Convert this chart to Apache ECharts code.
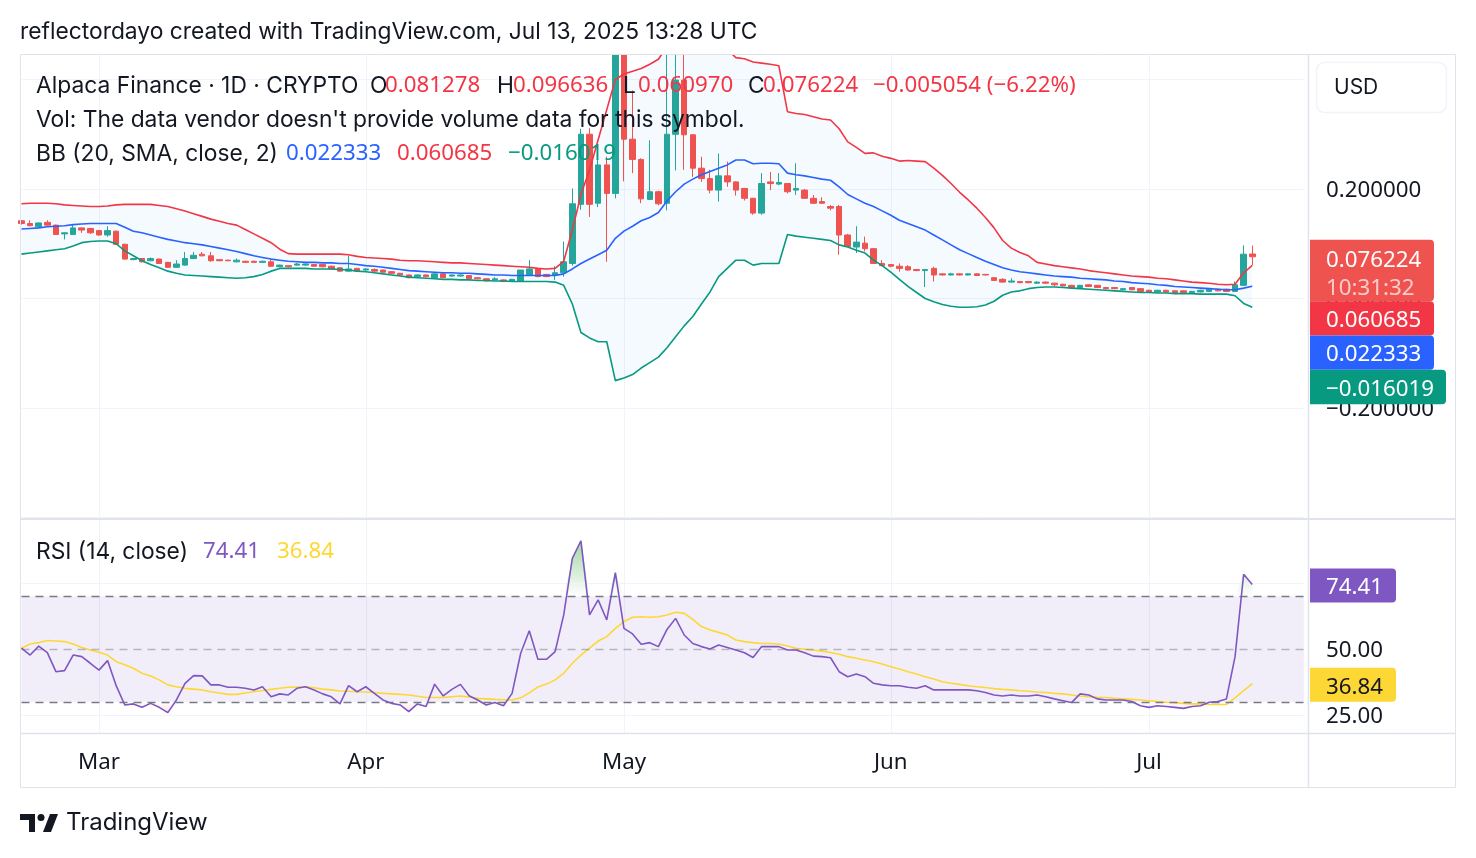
<!DOCTYPE html>
<html><head><meta charset="utf-8">
<script src="https://cdn.jsdelivr.net/npm/echarts@6/dist/echarts.min.js"></script>
<style>html,body{margin:0;padding:0;background:#fff}#c{width:1476px;height:858px}</style>
</head><body><div id="c"></div><script>
// ---- axis / category settings ----
const startDate = '2025-02-20';
const dayCount = 150;
const monthLabels = ['Jan','Feb','Mar','Apr','May','Jun','Jul','Aug','Sep','Oct','Nov','Dec'];
const priceTicks = {min: -0.4, interval: 0.2};
const rsiTickValues = [25, 50, 75];

// ---- daily candles (Feb 20 .. Jul 13 2025) ----
const open = [0.142,0.137,0.131,0.139,0.134,0.118,0.117,0.129,0.128,0.124,0.116,0.123,0.099,0.071,0.073,0.069,0.072,0.066,0.057,0.061,
0.073,0.081,0.078,0.071,0.070,0.067,0.068,0.068,0.066,0.067,0.058,0.060,0.061,0.061,0.062,0.062,0.059,0.056,0.050,0.055,
0.052,0.053,0.052,0.049,0.046,0.043,0.040,0.043,0.038,0.045,0.041,0.041,0.042,0.038,0.036,0.034,0.034,0.032,0.032,0.043,
0.054,0.044,0.043,0.047,0.064,0.172,0.300,0.174,0.244,0.192,0.520,0.291,0.254,0.181,0.195,0.174,0.300,0.399,0.299,0.238,
0.219,0.198,0.224,0.213,0.201,0.183,0.156,0.213,0.209,0.210,0.198,0.198,0.183,0.177,0.168,0.168,0.116,0.094,0.101,0.091,
0.064,0.062,0.059,0.058,0.053,0.051,0.055,0.045,0.043,0.045,0.043,0.045,0.044,0.038,0.035,0.030,0.031,0.031,0.028,0.030,
0.028,0.026,0.024,0.020,0.025,0.024,0.020,0.020,0.016,0.020,0.018,0.015,0.012,0.015,0.014,0.014,0.011,0.012,0.013,0.017,
0.017,0.013,0.024,0.081278];
const close = [0.137,0.133,0.138,0.134,0.117,0.120,0.129,0.125,0.120,0.116,0.124,0.099,0.072,0.073,0.067,0.073,0.064,0.057,0.063,0.073,
0.079,0.078,0.069,0.069,0.069,0.070,0.066,0.066,0.068,0.059,0.061,0.058,0.063,0.063,0.059,0.058,0.054,0.050,0.054,0.050,
0.054,0.050,0.048,0.046,0.043,0.038,0.043,0.040,0.045,0.038,0.043,0.043,0.036,0.036,0.032,0.036,0.031,0.035,0.052,0.054,
0.040,0.040,0.047,0.067,0.173,0.300,0.172,0.244,0.192,0.520,0.291,0.254,0.182,0.195,0.173,0.300,0.399,0.299,0.238,0.219,
0.198,0.224,0.213,0.198,0.183,0.156,0.210,0.210,0.212,0.195,0.201,0.183,0.174,0.174,0.165,0.116,0.095,0.103,0.091,0.064,
0.060,0.059,0.055,0.052,0.051,0.053,0.043,0.043,0.045,0.043,0.045,0.042,0.043,0.033,0.030,0.032,0.029,0.029,0.030,0.028,
0.025,0.023,0.020,0.024,0.022,0.020,0.018,0.018,0.018,0.016,0.013,0.012,0.015,0.012,0.011,0.011,0.013,0.015,0.017,0.014,
0.013,0.025,0.081,0.076224];
const low = [0.135,0.132,0.130,0.133,0.116,0.108,0.116,0.120,0.118,0.115,0.113,0.098,0.071,0.070,0.066,0.068,0.063,0.056,0.056,0.060,
0.072,0.077,0.067,0.068,0.068,0.066,0.065,0.065,0.065,0.058,0.057,0.057,0.060,0.060,0.058,0.057,0.053,0.049,0.049,0.049,
0.051,0.048,0.047,0.045,0.042,0.037,0.039,0.039,0.037,0.037,0.040,0.040,0.035,0.035,0.031,0.033,0.030,0.031,0.031,0.042,
0.039,0.039,0.034,0.040,0.060,0.162,0.149,0.167,0.067,0.183,0.214,0.229,0.174,0.180,0.170,0.161,0.234,0.235,0.222,0.213,
0.192,0.177,0.204,0.188,0.179,0.153,0.153,0.198,0.207,0.192,0.189,0.182,0.173,0.173,0.161,0.080,0.094,0.083,0.086,0.063,
0.059,0.057,0.049,0.051,0.050,0.021,0.031,0.042,0.042,0.042,0.042,0.041,0.042,0.032,0.029,0.029,0.028,0.028,0.027,0.027,
0.023,0.022,0.019,0.019,0.021,0.019,0.017,0.017,0.015,0.015,0.012,0.011,0.011,0.011,0.010,0.010,0.010,0.011,0.012,0.013,
0.012,0.012,0.023,0.06097];
const high = [0.143,0.143,0.139,0.143,0.135,0.121,0.134,0.130,0.129,0.125,0.132,0.124,0.100,0.074,0.074,0.075,0.073,0.067,0.070,0.085,
0.085,0.085,0.085,0.072,0.071,0.073,0.069,0.069,0.069,0.073,0.062,0.061,0.065,0.064,0.063,0.063,0.060,0.057,0.078,0.056,
0.055,0.055,0.053,0.050,0.047,0.044,0.044,0.044,0.046,0.046,0.044,0.044,0.043,0.039,0.037,0.039,0.035,0.036,0.052,0.070,
0.055,0.045,0.059,0.104,0.201,0.310,0.311,0.279,0.259,0.600,0.580,0.380,0.256,0.289,0.197,0.500,0.550,0.520,0.300,0.259,
0.235,0.265,0.250,0.214,0.202,0.184,0.229,0.231,0.229,0.211,0.247,0.200,0.189,0.185,0.171,0.171,0.118,0.132,0.113,0.092,
0.070,0.063,0.064,0.061,0.054,0.054,0.058,0.046,0.047,0.046,0.046,0.046,0.045,0.039,0.037,0.037,0.032,0.032,0.031,0.031,
0.029,0.027,0.025,0.025,0.026,0.025,0.021,0.021,0.019,0.021,0.019,0.016,0.016,0.016,0.015,0.015,0.014,0.016,0.018,0.018,
0.018,0.031,0.097,0.096636];

// ---- Bollinger Bands (20, SMA, close, 2) ----
const bbBasis = [0.127,0.128,0.129,0.131,0.132,0.133,0.135,0.136,0.137,0.137,0.137,0.137,0.130,0.123,0.120,0.116,0.112,0.108,0.105,0.102,
0.100,0.098,0.095,0.092,0.089,0.086,0.082,0.078,0.075,0.072,0.070,0.068,0.067,0.066,0.066,0.065,0.065,0.064,0.064,0.062,
0.060,0.059,0.057,0.055,0.053,0.051,0.050,0.049,0.048,0.047,0.047,0.046,0.046,0.045,0.044,0.043,0.043,0.042,0.042,0.042,
0.042,0.042,0.042,0.045,0.054,0.064,0.072,0.080,0.088,0.110,0.123,0.132,0.142,0.148,0.157,0.178,0.195,0.209,0.218,0.226,
0.232,0.238,0.244,0.253,0.253,0.246,0.247,0.247,0.246,0.229,0.226,0.224,0.221,0.218,0.216,0.204,0.190,0.182,0.174,0.168,
0.160,0.152,0.143,0.137,0.131,0.125,0.116,0.107,0.098,0.089,0.082,0.075,0.068,0.062,0.056,0.052,0.049,0.047,0.045,0.043,
0.041,0.040,0.039,0.037,0.036,0.035,0.034,0.032,0.031,0.029,0.028,0.027,0.025,0.024,0.022,0.021,0.020,0.019,0.018,0.017,
0.016,0.016,0.019,0.022333];
const bbUpper = [0.173,0.174,0.174,0.174,0.173,0.171,0.170,0.169,0.168,0.168,0.169,0.171,0.172,0.172,0.172,0.172,0.170,0.168,0.164,0.160,
0.155,0.150,0.145,0.141,0.137,0.134,0.126,0.118,0.110,0.102,0.090,0.082,0.081,0.081,0.081,0.081,0.081,0.081,0.080,0.077,
0.075,0.074,0.073,0.072,0.070,0.069,0.069,0.068,0.067,0.066,0.065,0.065,0.064,0.063,0.062,0.061,0.060,0.059,0.058,0.057,
0.055,0.054,0.055,0.068,0.125,0.190,0.235,0.290,0.345,0.400,0.410,0.415,0.420,0.428,0.437,0.460,0.500,0.530,0.540,0.530,
0.510,0.480,0.455,0.440,0.438,0.432,0.430,0.428,0.425,0.341,0.338,0.336,0.332,0.328,0.326,0.310,0.286,0.276,0.265,0.266,
0.260,0.256,0.251,0.252,0.251,0.250,0.238,0.225,0.210,0.194,0.180,0.165,0.148,0.129,0.106,0.092,0.084,0.078,0.066,0.063,
0.060,0.058,0.056,0.054,0.051,0.049,0.047,0.045,0.043,0.041,0.040,0.039,0.037,0.036,0.034,0.032,0.030,0.029,0.028,0.026,
0.025,0.026,0.047,0.060685];
const bbLower = [0.081,0.083,0.085,0.087,0.089,0.091,0.096,0.102,0.104,0.105,0.105,0.100,0.087,0.078,0.069,0.062,0.056,0.050,0.046,0.043,
0.042,0.041,0.040,0.039,0.038,0.037,0.038,0.040,0.044,0.050,0.055,0.055,0.055,0.055,0.054,0.054,0.054,0.053,0.052,0.050,
0.049,0.047,0.045,0.043,0.041,0.039,0.038,0.037,0.036,0.035,0.035,0.034,0.034,0.033,0.033,0.032,0.032,0.031,0.031,0.031,
0.031,0.031,0.030,0.024,-0.010,-0.062,-0.072,-0.079,-0.079,-0.150,-0.145,-0.139,-0.127,-0.117,-0.107,-0.090,-0.070,-0.050,-0.033,-0.010,
0.012,0.040,0.055,0.070,0.070,0.061,0.064,0.064,0.064,0.117,0.114,0.112,0.110,0.108,0.106,0.098,0.094,0.088,0.083,0.070,
0.060,0.048,0.035,0.022,0.011,0.000,-0.006,-0.011,-0.014,-0.016,-0.016,-0.015,-0.012,-0.005,0.006,0.012,0.014,0.018,0.020,0.021,
0.021,0.020,0.019,0.018,0.017,0.016,0.015,0.014,0.013,0.012,0.011,0.011,0.010,0.010,0.009,0.009,0.009,0.008,0.008,0.008,
0.008,0.005,-0.009,-0.016019];

// ---- RSI (14, close) and its moving average ----
const rsi = [50.3,47.7,51.1,48.6,41.4,41.8,47.7,47.1,44.6,42.0,45.6,36.1,28.8,29.2,27.9,29.4,27.9,25.9,30.7,37.0,
39.9,39.8,36.4,36.4,35.5,35.5,35.1,34.5,35.7,31.9,33.0,32.6,35.1,35.7,34.5,33.0,31.9,29.2,36.1,33.8,
35.7,33.2,30.7,29.4,28.8,26.3,29.2,28.2,36.7,32.2,34.7,36.6,32.3,30.7,28.8,29.7,28.5,33.2,48.4,56.9,
46.1,46.1,49.0,62.9,84.3,91.0,62.9,68.6,61.0,78.9,57.8,55.7,51.8,52.4,50.9,57.4,61.6,55.3,52.1,50.9,
50.0,51.5,50.6,49.6,48.6,46.8,50.9,50.9,50.9,49.6,49.6,48.6,47.3,47.1,46.7,41.4,39.5,40.5,39.5,37.0,
36.4,36.1,36.1,35.5,35.1,36.1,34.5,34.5,34.5,34.5,34.5,34.2,33.5,32.6,32.2,32.6,32.2,32.2,32.6,31.9,
31.1,30.4,29.7,33.0,32.6,31.1,30.7,30.7,30.7,30.1,28.5,27.9,28.5,28.2,27.9,27.5,28.2,28.5,29.8,30.1,
31.1,47.1,78.3,74.41];
const rsiMa = [50.3,51.9,52.4,53.2,53.0,52.8,51.9,50.6,49.6,48.8,47.7,45.2,44.0,42.7,40.8,39.8,38.3,36.4,35.7,35.1,
34.8,34.5,33.8,33.3,32.8,32.8,33.3,33.8,34.3,34.7,35.1,35.5,35.6,35.7,35.3,34.8,34.5,34.1,34.0,33.8,
33.7,33.5,33.2,33.0,32.8,32.6,32.1,31.6,31.6,31.6,31.9,32.2,31.8,31.3,31.1,30.9,30.8,30.7,31.5,33.4,
35.6,36.7,38.3,40.8,44.6,47.7,50.3,53.0,54.7,57.8,60.4,62.0,62.2,62.0,62.2,62.9,63.9,63.5,61.2,58.5,
57.2,56.3,55.3,53.4,52.8,52.4,52.1,52.1,51.9,51.1,50.3,49.9,49.6,49.2,48.7,48.0,47.1,46.5,45.8,45.2,
44.3,43.3,42.4,41.4,40.5,39.5,38.6,37.6,37.0,36.6,36.1,35.7,35.4,35.0,34.7,34.5,34.2,34.0,33.7,33.5,
33.2,33.0,32.6,32.2,31.9,31.7,31.6,31.3,31.1,30.9,30.7,30.4,30.1,29.8,29.7,29.4,29.2,29.2,29.0,29.0,
29.0,31.5,34.2,36.84];
const rsiLevels = {upper: 70, middle: 50, lower: 30};

// ---- texts ----
const headerText = 'reflectordayo created with TradingView.com, Jul 13, 2025 13:28 UTC';
const symbolText = 'Alpaca Finance · 1D · CRYPTO';
const ohlcChange = '−0.005054 (−6.22%)';
const volText = "Vol: The data vendor doesn't provide volume data for this symbol.";
const bbTitle = 'BB (20, SMA, close, 2)';
const rsiTitle = 'RSI (14, close)';
const countdown = '10:31:32';
const currency = 'USD';

// ---- build ----
const categories = [];
{
  const d0 = new Date(startDate + 'T00:00:00Z');
  for (let k = 0; k < dayCount; k++) {
    const d = new Date(d0.getTime() + k * 86400000);
    categories.push(d.toISOString().slice(0, 10));
  }
}
const isMonthStart = (idx) => categories[idx] && categories[idx].slice(8) === '01';
const FONT = 'Inter, "Noto Sans", sans-serif';      // words
const NFONT = '"Noto Sans", Inter, sans-serif';     // numbers (tabular digits)
const FS = 21;
const FSL = 22.8;
const FSN = 22.3;
const TXT = '#131722';
const fmtPrice = v => (v < 0 ? '−' : '') + Math.abs(v).toFixed(6);
const fmt2 = v => v.toFixed(2);

const candleData = open.map((o, k) => [o, close[k], low[k], high[k]]);
const bbDiff = bbUpper.map((u, k) => +(u - bbLower[k]).toFixed(6));
const obBase = rsi.map(() => rsiLevels.upper);
const obFill = rsi.map(r => Math.max(r - rsiLevels.upper, 0));
const osBase = rsi.map(r => Math.min(r, rsiLevels.lower));
const osFill = rsi.map(r => rsiLevels.lower - Math.min(r, rsiLevels.lower));

const gridLeft = 21.5, gridWidth = 1282.4;
const chart = echarts.init(document.getElementById('c'), null, {renderer: 'canvas'});

const yLabel = {margin: 22, color: TXT, fontSize: FSN, fontFamily: NFONT, verticalAlign: 'top', lineHeight: 4};

const option = {
  animation: false,
  backgroundColor: '#ffffff',
  textStyle: {fontFamily: FONT},
  grid: [
    {left: gridLeft, top: 54, width: gridWidth, height: 463.5},
    {left: gridLeft, top: 519, width: gridWidth, height: 214}
  ],
  xAxis: [
    {type: 'category', gridIndex: 0, data: categories, boundaryGap: false,
     axisLine: {show: false}, axisTick: {show: false}, axisLabel: {show: false},
     splitLine: {show: true, interval: (i) => isMonthStart(i), lineStyle: {color: '#f0f3fa', width: 1}}},
    {type: 'category', gridIndex: 1, data: categories, boundaryGap: false,
     axisLine: {show: false}, axisTick: {show: false},
     axisLabel: {show: true, interval: (i) => isMonthStart(i), color: TXT, fontSize: FSN, fontFamily: NFONT, margin: 19,
       formatter: (v) => monthLabels[parseInt(v.slice(5, 7), 10) - 1]},
     splitLine: {show: true, interval: (i) => isMonthStart(i), lineStyle: {color: '#f0f3fa', width: 1}}}
  ],
  yAxis: [
    {type: 'value', gridIndex: 0, position: 'right', min: priceTicks.min, max: 0.4466, interval: priceTicks.interval,
     axisLine: {show: false}, axisTick: {show: false},
     splitLine: {lineStyle: {color: '#f0f3fa', width: 1}},
     axisLabel: Object.assign({formatter: fmtPrice, showMinLabel: false, showMaxLabel: false}, yLabel)},
    {type: 'value', gridIndex: 1, position: 'right', min: 18.18, max: 99.24,
     axisLine: {show: false}, axisTick: {show: false, customValues: rsiTickValues},
     splitLine: {show: false},
     axisLabel: Object.assign({formatter: fmt2, customValues: rsiTickValues}, yLabel)}
  ],
  series: [
    {name: 'bbBase', type: 'line', xAxisIndex: 0, yAxisIndex: 0, data: bbLower, stack: 'bb', stackStrategy: 'all',
     showSymbol: false, symbol: 'none', lineStyle: {opacity: 0}, silent: true, z: 1},
    {name: 'bbFill', type: 'line', xAxisIndex: 0, yAxisIndex: 0, data: bbDiff, stack: 'bb', stackStrategy: 'all',
     showSymbol: false, symbol: 'none', lineStyle: {opacity: 0}, areaStyle: {color: 'rgba(33,150,243,0.05)', opacity: 1}, silent: true, z: 1},
    {name: 'candles', type: 'candlestick', xAxisIndex: 0, yAxisIndex: 0, data: candleData, barWidth: 6, clip: true,
     itemStyle: {color: '#26a69a', color0: '#ef5350', borderColor: '#26a69a', borderColor0: '#ef5350', borderWidth: 1}, z: 3},
    {name: 'upper', type: 'line', xAxisIndex: 0, yAxisIndex: 0, data: bbUpper, symbol: 'none', showSymbol: false,
     lineStyle: {color: '#f23645', width: 1.6}, z: 4, silent: true},
    {name: 'basis', type: 'line', xAxisIndex: 0, yAxisIndex: 0, data: bbBasis, symbol: 'none', showSymbol: false,
     lineStyle: {color: '#2962ff', width: 1.6}, z: 4, silent: true},
    {name: 'lower', type: 'line', xAxisIndex: 0, yAxisIndex: 0, data: bbLower, symbol: 'none', showSymbol: false,
     lineStyle: {color: '#089981', width: 1.6}, z: 4, silent: true},

    {name: 'obBase', type: 'line', xAxisIndex: 1, yAxisIndex: 1, data: obBase, stack: 'ob', symbol: 'none',
     lineStyle: {opacity: 0}, silent: true, z: 2},
    {name: 'obFill', type: 'line', xAxisIndex: 1, yAxisIndex: 1, data: obFill, stack: 'ob', symbol: 'none',
     lineStyle: {opacity: 0}, silent: true, z: 2,
     areaStyle: {color: new echarts.graphic.LinearGradient(0, 0, 0, 1, [
       {offset: 0, color: 'rgba(76,175,80,0.75)'}, {offset: 1, color: 'rgba(76,175,80,0)'}])}},
    {name: 'osBase', type: 'line', xAxisIndex: 1, yAxisIndex: 1, data: osBase, stack: 'os', symbol: 'none',
     lineStyle: {opacity: 0}, silent: true, z: 2},
    {name: 'osFill', type: 'line', xAxisIndex: 1, yAxisIndex: 1, data: osFill, stack: 'os', symbol: 'none',
     lineStyle: {opacity: 0}, silent: true, z: 2,
     areaStyle: {color: new echarts.graphic.LinearGradient(0, 0, 0, 1, [
       {offset: 0, color: 'rgba(255,82,82,0)'}, {offset: 1, color: 'rgba(255,82,82,0.25)'}])}},
    {name: 'rsi', type: 'line', xAxisIndex: 1, yAxisIndex: 1, data: rsi, symbol: 'none', showSymbol: false,
     lineStyle: {color: '#7e57c2', width: 1.6}, z: 5, silent: true,
     markArea: {silent: true, itemStyle: {color: 'rgba(126,87,194,0.1)'},
       data: [[{yAxis: rsiLevels.lower}, {yAxis: rsiLevels.upper}]]},
     markLine: {silent: true, symbol: 'none', label: {show: false}, animation: false,
       data: [
         {yAxis: 75, lineStyle: {color: '#f0f3fa', type: 'solid', width: 1}},
         {yAxis: 25, lineStyle: {color: '#f0f3fa', type: 'solid', width: 1}},
         {yAxis: rsiLevels.upper, lineStyle: {color: '#787b86', type: [8, 6], width: 1.3}},
         {yAxis: rsiLevels.middle, lineStyle: {color: 'rgba(120,123,134,0.5)', type: [8, 6], width: 1.3}},
         {yAxis: rsiLevels.lower, lineStyle: {color: '#787b86', type: [8, 6], width: 1.3}}
       ]}},
    {name: 'rsiMa', type: 'line', xAxisIndex: 1, yAxisIndex: 1, data: rsiMa, symbol: 'none', showSymbol: false,
     lineStyle: {color: '#fdd835', width: 1.6}, z: 4, silent: true}
  ]
};
chart.setOption(option);

// ---- overlay texts, labels, frame ----
const last = open.length - 1;
const py = v => chart.convertToPixel({xAxisIndex: 0, yAxisIndex: 0}, [0, v])[1];
const ry = v => chart.convertToPixel({xAxisIndex: 1, yAxisIndex: 1}, [0, v])[1];

function txt(x, y, text, fill, size, font) {
  return {type: 'text', x: x, y: y + 1, z: 100,
    style: {text: text, fill: fill, fontSize: size || FS, fontFamily: font || FONT, verticalAlign: 'middle', align: 'left'}};
}
const num = (x, y, text, fill) => txt(x, y, text, fill, FSN, NFONT);
function box(x, y, w, h, fill) {
  return {type: 'rect', z: 99, shape: {x: x, y: y, width: w, height: h, r: [0, 4, 4, 0]}, style: {fill: fill}};
}
const g = [];
// cover for candles overflowing the top of the price pane
g.push({type: 'rect', z: 97, shape: {x: 0, y: 0, width: 1476, height: 54}, style: {fill: '#ffffff'}});
// frame
const frameColor = '#e0e3eb';
g.push({type: 'rect', z: 98, shape: {x: 20.5, y: 54.5, width: 1435, height: 733}, style: {fill: 'none', stroke: frameColor, lineWidth: 1}});
g.push({type: 'line', z: 98, shape: {x1: 20, y1: 519, x2: 1456, y2: 519}, style: {stroke: frameColor, lineWidth: 2}});
g.push({type: 'line', z: 98, shape: {x1: 20, y1: 733.5, x2: 1456, y2: 733.5}, style: {stroke: frameColor, lineWidth: 1.5}});
g.push({type: 'line', z: 98, shape: {x1: 1308.5, y1: 54, x2: 1308.5, y2: 788}, style: {stroke: frameColor, lineWidth: 1.5}});

// header
g.push(txt(20, 31, headerText, TXT, FSL));
// legend line 1
g.push(txt(36, 85, symbolText, TXT, FSL));
g.push(txt(370, 85, 'O', TXT, FSL)); g.push(num(385, 85, open[last].toFixed(6), '#f23645'));
g.push(txt(497, 85, 'H', TXT, FSL)); g.push(num(513, 85, high[last].toFixed(6), '#f23645'));
g.push(txt(623, 85, 'L', TXT, FSL)); g.push(num(638, 85, low[last].toFixed(6), '#f23645'));
g.push(txt(748, 85, 'C', TXT, FSL)); g.push(num(763, 85, close[last].toFixed(6), '#f23645'));
g.push(num(873, 85, ohlcChange, '#f23645'));
g.push(txt(36, 119, volText, TXT, FSL));
g.push(txt(36, 153, bbTitle, TXT, FSL));
g.push(num(286, 153, fmtPrice(bbBasis[last]), '#2962ff'));
g.push(num(397, 153, fmtPrice(bbUpper[last]), '#f23645'));
g.push(num(508, 153, fmtPrice(bbLower[last]), '#089981'));
// RSI legend
g.push(txt(36, 551, rsiTitle, TXT, FSL));
g.push(num(203, 551, fmt2(rsi[last]), '#7e57c2'));
g.push(num(277, 551, fmt2(rsiMa[last]), '#fdd835'));

// USD box
g.push({type: 'rect', z: 99, shape: {x: 1316.5, y: 62.5, width: 130, height: 50, r: 8}, style: {fill: '#fff', stroke: '#f0f3fa', lineWidth: 1.5}});
g.push(txt(1334, 87, currency, TXT, FS));

// price labels (stacked)
let y0 = py(close[last]) - 17;
g.push(box(1310, y0, 124, 61.5, '#ef5350'));
g.push(num(1326, y0 + 20, fmtPrice(close[last]), '#ffffff'));
g.push(num(1326, y0 + 47.5, countdown, 'rgba(255,255,255,0.7)'));
let yb = y0 + 61.5;
g.push(box(1310, yb, 124, 34.3, '#f23645')); g.push(num(1326, yb + 18.5, fmtPrice(bbUpper[last]), '#ffffff')); yb += 34.3;
g.push(box(1310, yb, 124, 34.3, '#2962ff')); g.push(num(1326, yb + 18.5, fmtPrice(bbBasis[last]), '#ffffff')); yb += 34.3;
g.push(box(1310, yb, 136, 34.3, '#089981')); g.push(num(1326, yb + 18.5, fmtPrice(bbLower[last]), '#ffffff'));

// RSI labels
const r1 = ry(rsi[last]);
g.push(box(1310, r1 - 16, 86, 34, '#7e57c2')); g.push(num(1326, r1 + 2.5, fmt2(rsi[last]), '#ffffff'));
const r2 = ry(rsiMa[last]);
g.push(box(1310, r2 - 16, 86, 34, '#fdd835')); g.push(num(1326, r2 + 2.5, fmt2(rsiMa[last]), TXT));

// TradingView logo
g.push({type: 'polygon', z: 100, shape: {points: [[20, 814], [35, 814], [35, 832], [29, 832], [29, 820], [20, 820]]}, style: {fill: TXT}});
g.push({type: 'circle', z: 100, shape: {cx: 41, cy: 817.5, r: 3.5}, style: {fill: TXT}});
g.push({type: 'polygon', z: 100, shape: {points: [[50, 814], [58, 814], [51, 832], [43, 832]]}, style: {fill: TXT}});
g.push(txt(66, 822, 'TradingView', TXT, 24));

chart.setOption({graphic: {elements: g}});
</script></body></html>
